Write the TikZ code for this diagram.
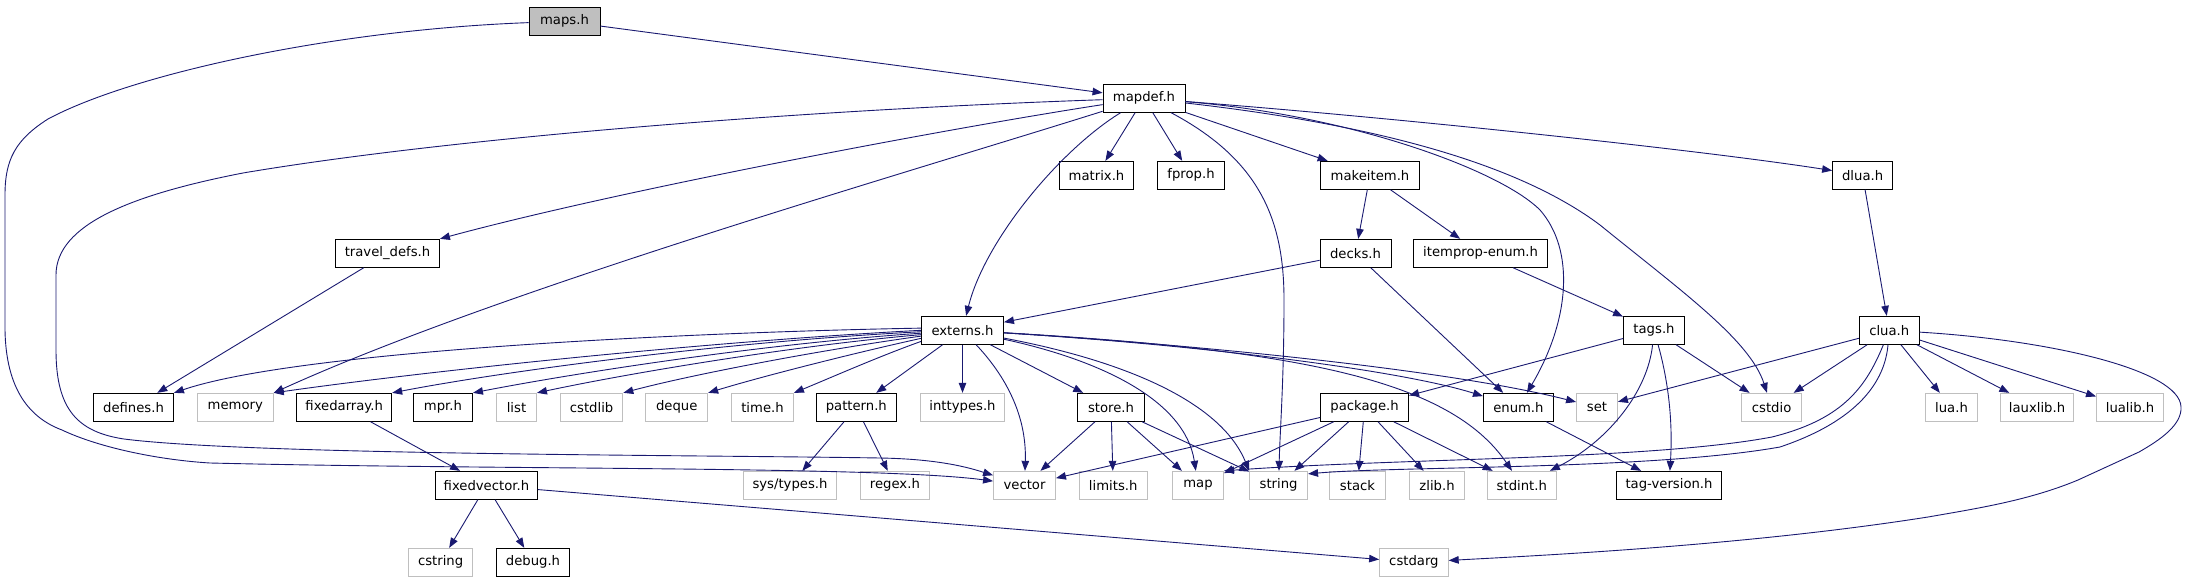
\documentclass[tikz,border=0pt]{standalone}
\usepackage{fontspec}
\setmainfont{DejaVu Sans}
\usetikzlibrary{arrows.meta}
\definecolor{edgecol}{HTML}{191970}
\definecolor{greyb}{HTML}{BFBFBF}
\begin{document}
\begin{tikzpicture}[x=1bp,y=-1bp,
  hdr/.style={draw=black, fill=white, line width=0.9bp, minimum height=28bp, inner sep=0pt,
    font=\fontsize{13.2bp}{16bp}\selectfont, text=black},
  sys/.style={hdr, draw=greyb},
  e/.style={draw=edgecol, line width=0.9bp, -{Triangle[length=10bp,width=7.5bp]}}]
\useasboundingbox (0,0) rectangle (2188,581);
% row 0-4
\node[hdr, fill=greyb, minimum width=71bp] (maps) at (564.5,21.3) {maps.h};
\node[hdr, minimum width=82bp] (mapdef) at (1144,98.3) {mapdef.h};
\node[hdr, minimum width=74bp] (matrix) at (1096.5,175.3) {matrix.h};
\node[hdr, minimum width=67bp] (fprop) at (1191,175.3) {fprop.h};
\node[hdr, minimum width=99bp] (makeitem) at (1370,175.3) {makeitem.h};
\node[hdr, minimum width=60bp] (dlua) at (1862.6,175.3) {dlua.h};
\node[hdr, minimum width=104bp] (travel) at (387.5,253.3) {travel\_defs.h};
\node[hdr, minimum width=71bp] (decks) at (1355.5,253.3) {decks.h};
\node[hdr, minimum width=134bp] (itemprop) at (1480.6,253.3) {itemprop-enum.h};
\node[hdr, minimum width=82bp] (externs) at (962.5,330.3) {externs.h};
\node[hdr, minimum width=61bp] (tags) at (1654,330.3) {tags.h};
\node[hdr, minimum width=60bp] (clua) at (1889.2,330.3) {clua.h};
% row 5
\node[hdr, minimum width=80bp] (defines) at (133.5,407.3) {defines.h};
\node[sys, minimum width=76bp] (memory) at (235.3,407.3) {memory};
\node[hdr, minimum width=95bp] (fixedarray) at (344.2,407.3) {fixedarray.h};
\node[hdr, minimum width=59bp] (mpr) at (443,407.3) {mpr.h};
\node[sys, minimum width=40bp] (list) at (516.5,407.3) {list};
\node[sys, minimum width=62.5bp] (cstdlib) at (591.6,407.3) {cstdlib};
\node[sys, minimum width=62bp] (deque) at (676.7,407.3) {deque};
\node[sys, minimum width=62bp] (time) at (762.5,407.3) {time.h};
\node[hdr, minimum width=80bp] (pattern) at (856.3,407.3) {pattern.h};
\node[sys, minimum width=84bp] (inttypes) at (962.5,407.3) {inttypes.h};
\node[hdr, minimum width=67bp] (store) at (1111,407.3) {store.h};
\node[hdr, minimum width=88bp] (package) at (1364.6,407.3) {package.h};
\node[hdr, minimum width=70bp] (enum) at (1518.4,407.3) {enum.h};
\node[sys, minimum width=41bp] (set) at (1597,407.3) {set};
\node[sys, minimum width=60bp] (cstdio) at (1771.6,407.3) {cstdio};
\node[sys, minimum width=52bp] (lua) at (1951.5,407.3) {lua.h};
\node[sys, minimum width=73bp] (lauxlib) at (2037,407.3) {lauxlib.h};
\node[sys, minimum width=67bp] (lualib) at (2130,407.3) {lualib.h};
% row 6
\node[hdr, minimum width=102bp] (fixedvector) at (486.4,485.3) {fixedvector.h};
\node[sys, minimum width=93bp] (systypes) at (790,485.3) {sys/types.h};
\node[sys, minimum width=69bp] (regex) at (894.9,485.3) {regex.h};
\node[sys, minimum width=62bp] (vector) at (1024.5,485.3) {vector};
\node[sys, minimum width=67.5bp] (limits) at (1113.2,485.3) {limits.h};
\node[sys, minimum width=51bp] (map) at (1198,485.3) {map};
\node[sys, minimum width=58bp] (string) at (1278.6,485.3) {string};
\node[sys, minimum width=56bp] (stack) at (1357.5,485.3) {stack};
\node[sys, minimum width=55bp] (zlib) at (1437,485.3) {zlib.h};
\node[sys, minimum width=69bp] (stdint) at (1521.8,485.3) {stdint.h};
\node[hdr, minimum width=105bp] (tagver) at (1669,485.3) {tag-version.h};
% row 7
\node[sys, minimum width=64bp] (cstring) at (440.6,562.3) {cstring};
\node[hdr, minimum width=73bp] (debug) at (533,562.3) {debug.h};
\node[sys, minimum width=68.6bp] (cstdarg) at (1413.9,562.3) {cstdarg};

% edges from maps.h
\draw[e] (maps) -- (mapdef);
\draw[e] (maps) .. controls (330,30) and (130,75) .. (48,119)
  .. controls (15,140) and (5,160) .. (5,195) -- (5,330)
  .. controls (6,390) and (30,418) .. (62,430)
  .. controls (100,448) and (160,460) .. (210,463)
  .. controls (500,470) and (880,466) .. (vector);
% edges from mapdef.h
\draw[e] (mapdef) .. controls (800,110) and (450,138) .. (243,173)
  .. controls (130,195) and (56,225) .. (56,275) -- (56,350)
  .. controls (56,410) and (78,432) .. (124,439)
  .. controls (250,455) and (700,455) .. (880,458)
  .. controls (940,459) and (970,468) .. (vector);
\draw[e] (mapdef) .. controls (950,128) and (620,190) .. (travel.north east);
\draw[e] (mapdef) .. controls (900,175) and (500,290) .. (memory.north east);
\draw[e] (mapdef) .. controls (1060,150) and (985,240) .. (externs);
\draw[e] (mapdef) -- (matrix);
\draw[e] (mapdef) -- (fprop);
\draw[e] (mapdef) -- (makeitem);
\draw[e] (mapdef) .. controls (1400,118) and (1700,150) .. (dlua);
\draw[e] (mapdef) .. controls (1350,115) and (1500,170) .. (1540,210)
  .. controls (1575,250) and (1570,320) .. (enum);
\draw[e] (mapdef) .. controls (1380,125) and (1520,165) .. (1600,225)
  .. controls (1680,290) and (1750,340) .. (cstdio);
\draw[e] (mapdef) .. controls (1260,160) and (1284,220) .. (1284,300)
  .. controls (1284,380) and (1280,430) .. (string);
% middle rows
\draw[e] (makeitem) -- (decks);
\draw[e] (makeitem) -- (itemprop);
\draw[e] (decks) -- (externs);
\draw[e] (decks) -- (enum);
\draw[e] (itemprop) -- (tags);
\draw[e] (dlua) -- (clua);
\draw[e] (travel) -- (defines);
% externs.h fan
\draw[e] (externs.177) .. controls (700,332) and (300,350) .. (defines.north east);
\draw[e] (externs.180) .. controls (700,342) and (420,372) .. (memory.north east);
\draw[e] (externs.182) .. controls (720,342) and (500,372) .. (fixedarray.north east);
\draw[e] (externs.184) .. controls (760,344) and (570,374) .. (mpr.north east);
\draw[e] (externs.186) .. controls (790,346) and (625,374) .. (list.north east);
\draw[e] (externs.188) .. controls (820,350) and (690,375) .. (cstdlib.north east);
\draw[e] (externs.191) .. controls (850,354) and (760,377) .. (deque.north east);
\draw[e] (externs.195) .. controls (880,356) and (830,378) .. (time.north east);
\draw[e] (externs) -- (pattern);
\draw[e] (externs) -- (inttypes);
\draw[e] (externs) .. controls (1000,370) and (1027,410) .. (vector);
\draw[e] (externs) -- (store);
\draw[e] (externs) .. controls (1100,360) and (1185,400) .. (map);
\draw[e] (externs) .. controls (1120,360) and (1220,400) .. (string.north west);
\draw[e] (externs) .. controls (1200,345) and (1450,370) .. (set);
\draw[e] (externs) .. controls (1200,345) and (1400,370) .. (enum);
\draw[e] (externs) .. controls (1300,350) and (1450,380) .. (stdint);
% package.h
\draw[e] (package) -- (vector);
\draw[e] (package) -- (map);
\draw[e] (package) -- (string);
\draw[e] (package) -- (stack);
\draw[e] (package) -- (zlib);
\draw[e] (package) -- (stdint);
% store.h
\draw[e] (store) -- (vector);
\draw[e] (store) -- (limits);
\draw[e] (store) -- (map);
\draw[e] (store) -- (string);
% pattern.h
\draw[e] (pattern) -- (systypes);
\draw[e] (pattern) -- (regex);
% tags.h
\draw[e] (tags) -- (package);
\draw[e] (tags) -- (cstdio);
\draw[e] (tags) .. controls (1648,390) and (1610,440) .. (stdint);
\draw[e] (tags) .. controls (1668,380) and (1673,420) .. (tagver);
\draw[e] (enum) -- (tagver);
% clua.h
\draw[e] (clua) -- (set);
\draw[e] (clua) -- (cstdio);
\draw[e] (clua) -- (lua);
\draw[e] (clua) -- (lauxlib);
\draw[e] (clua) -- (lualib);
\draw[e] (clua) .. controls (1865,390) and (1840,420) .. (1772,437)
  .. controls (1650,460) and (1400,458) .. (map.north east);
\draw[e] (clua) .. controls (1885,380) and (1860,420) .. (1780,447)
  .. controls (1650,470) and (1400,466) .. ([yshift=-3bp]string.north east);
\draw[e] (clua) .. controls (2050,340) and (2180,370) .. (2181,407)
  .. controls (2182,425) and (2160,440) .. (2139,452) -- (2078,480)
  .. controls (2030,500) and (1980,508) .. (1928,517)
  .. controls (1750,545) and (1550,555) .. (cstdarg);
% fixedarray / fixedvector
\draw[e] (fixedarray) -- (fixedvector);
\draw[e] (fixedvector) -- (cstring);
\draw[e] (fixedvector) -- (debug);
\draw[e] (fixedvector) -- (cstdarg);
\end{tikzpicture}
\end{document}
